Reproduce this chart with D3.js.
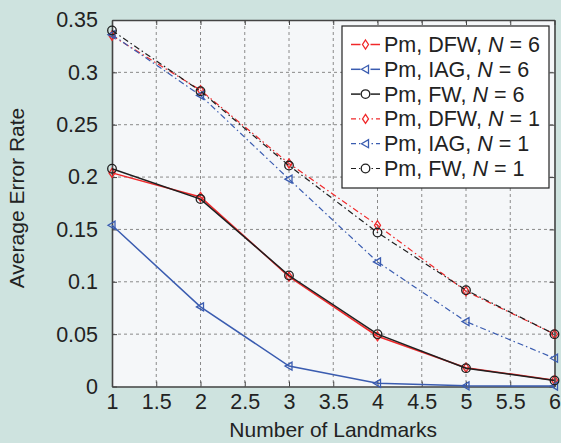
<!DOCTYPE html>
<html>
<head>
<meta charset="utf-8">
<script src="https://cdn.jsdelivr.net/npm/d3@7"></script>
<style>
  html, body { margin: 0; padding: 0; background: #cee3df; overflow: hidden; }
  svg { display: block; }
  text { font-family: "Liberation Sans", Arial, sans-serif; fill: #222; }
</style>
</head>
<body>
<div id="chart"></div>
<script>
// data
const landmarks = [1, 2, 3, 4, 5, 6];
const dfw6 = [0.204, 0.181, 0.105, 0.048, 0.018, 0.006];
const iag6 = [0.154, 0.076, 0.0195, 0.003, 0.0006, 0.0004];
const fw6  = [0.208, 0.179, 0.106, 0.050, 0.0175, 0.0058];
const dfw1 = [0.335, 0.283, 0.213, 0.154, 0.091, 0.050];
const iag1 = [0.336, 0.278, 0.198, 0.119, 0.062, 0.027];
const fw1  = [0.340, 0.282, 0.211, 0.147, 0.092, 0.050];
const xTicks = [1, 1.5, 2, 2.5, 3, 3.5, 4, 4.5, 5, 5.5, 6];
const yTicks = [0, 0.05, 0.1, 0.15, 0.2, 0.25, 0.3, 0.35];

const red = "#f0282a", blue = "#3a5cb0", black = "#1f1f1f";
const series = [
  { name: "Pm, DFW, ", n: 6, values: dfw6, color: red,   dash: null, marker: "diamond" },
  { name: "Pm, IAG, ", n: 6, values: iag6, color: blue,  dash: null, marker: "triangle" },
  { name: "Pm, FW, ",  n: 6, values: fw6,  color: black, dash: null, marker: "circle" },
  { name: "Pm, DFW, ", n: 1, values: dfw1, color: red,   dash: "6,3,1.5,3", marker: "diamond" },
  { name: "Pm, IAG, ", n: 1, values: iag1, color: blue,  dash: "6,3,1.5,3", marker: "triangle" },
  { name: "Pm, FW, ",  n: 1, values: fw1,  color: black, dash: "6,3,1.5,3", marker: "circle" }
];

const width = 561, height = 443;
const margin = { top: 20, left: 112, right: 6.5, bottom: 56.5 };
const innerWidth = width - margin.left - margin.right;
const innerHeight = height - margin.top - margin.bottom;

const svg = d3.select("#chart").append("svg")
  .attr("width", width).attr("height", height);

const g = svg.append("g").attr("transform", `translate(${margin.left},${margin.top})`);

const x = d3.scaleLinear().domain([1, 6]).range([0, innerWidth]);
const y = d3.scaleLinear().domain([0, 0.35]).range([innerHeight, 0]);

g.append("rect").attr("width", innerWidth).attr("height", innerHeight).attr("fill", "#f5f7f9");

// grid
g.selectAll(".gx").data(xTicks.slice(1, -1)).enter().append("line")
  .attr("x1", d => x(d)).attr("x2", d => x(d)).attr("y1", 0).attr("y2", innerHeight)
  .attr("stroke", "#8a8a8a").attr("stroke-width", 1).attr("stroke-dasharray", "3,3");
g.selectAll(".gy").data(yTicks.slice(1, -1)).enter().append("line")
  .attr("y1", d => y(d)).attr("y2", d => y(d)).attr("x1", 0).attr("x2", innerWidth)
  .attr("stroke", "#8a8a8a").attr("stroke-width", 1).attr("stroke-dasharray", "3,3");

// axes (ticks inside, box on all sides)
const fmt = d => String(+d.toFixed(2));
const xAxis = g.append("g").attr("transform", `translate(0,${innerHeight})`)
  .call(d3.axisBottom(x).tickValues(xTicks).tickSizeInner(-5).tickSizeOuter(0).tickPadding(11).tickFormat(fmt));
const yAxis = g.append("g")
  .call(d3.axisLeft(y).tickValues(yTicks).tickSizeInner(-5).tickSizeOuter(0).tickPadding(14).tickFormat(fmt));
const topAxis = g.append("g")
  .call(d3.axisTop(x).tickValues(xTicks).tickSizeInner(-5).tickSizeOuter(0));
const rightAxis = g.append("g").attr("transform", `translate(${innerWidth},0)`)
  .call(d3.axisRight(y).tickValues(yTicks).tickSizeInner(-5).tickSizeOuter(0));
topAxis.selectAll("text").remove();
rightAxis.selectAll("text").remove();
g.selectAll(".domain").attr("stroke", "#444").attr("stroke-width", 1.6);
g.selectAll(".tick line").attr("stroke", "#444");
g.selectAll("g").attr("font-family", null).attr("font-size", null);
g.selectAll(".tick text").attr("font-size", 21.5).attr("fill", "#222");
xAxis.selectAll(".tick text").attr("dy", "0.55em");

// markers
function drawMarker(sel, type, color) {
  if (type === "circle") {
    sel.append("circle").attr("r", 4.3).attr("fill", "none").attr("stroke", color).attr("stroke-width", 1.3);
  } else if (type === "diamond") {
    sel.append("path").attr("d", "M0,-4.5L3,0L0,4.5L-3,0Z").attr("fill", "none").attr("stroke", color).attr("stroke-width", 1.3);
  } else {
    sel.append("path").attr("d", "M-4,0L3,-4L3,4Z").attr("fill", "none").attr("stroke", color).attr("stroke-width", 1.3);
  }
}

const line = d3.line().x((d, i) => x(landmarks[i])).y(d => y(d));

series.forEach(s => {
  g.append("path").datum(s.values)
    .attr("d", line).attr("fill", "none")
    .attr("stroke", s.color).attr("stroke-width", s.dash ? 1.2 : 1.5)
    .attr("stroke-dasharray", s.dash);
  g.selectAll(null).data(s.values).enter().append("g")
    .attr("transform", (d, i) => `translate(${x(landmarks[i])},${y(d)})`)
    .each(function() { drawMarker(d3.select(this), s.marker, s.color); });
});

// legend
const legend = svg.append("g").attr("transform", "translate(342,26)");
legend.append("rect").attr("width", 207).attr("height", 162)
  .attr("fill", "#fff").attr("stroke", "#222").attr("stroke-width", 1.2);
series.forEach((s, i) => {
  const row = legend.append("g").attr("transform", `translate(0,${18.5 + i * 24.8})`);
  row.append("line").attr("x1", 9).attr("x2", 38).attr("y1", 0).attr("y2", 0)
    .attr("stroke", s.color).attr("stroke-width", s.dash ? 1.2 : 1.5)
    .attr("stroke-dasharray", s.dash ? "5,3,1.5,3" : null);
  const m = row.append("g").attr("transform", "translate(23.5,0)");
  m.append("rect").attr("x", -5).attr("y", -5).attr("width", 10).attr("height", 10).attr("fill", "#fff");
  drawMarker(m, s.marker, s.color);
  const t = row.append("text").attr("x", 42).attr("y", 7.5).attr("font-size", 21.5);
  t.append("tspan").text(s.name);
  t.append("tspan").attr("font-style", "italic").text("N");
  t.append("tspan").text(" = " + s.n);
});

// axis titles
svg.append("text").attr("x", margin.left + innerWidth / 2).attr("y", 437)
  .attr("text-anchor", "middle").attr("font-size", 21).text("Number of Landmarks");
svg.append("text").attr("transform", "translate(23.5,198) rotate(-90)")
  .attr("text-anchor", "middle").attr("font-size", 21).text("Average Error Rate");
</script>
</body>
</html>
